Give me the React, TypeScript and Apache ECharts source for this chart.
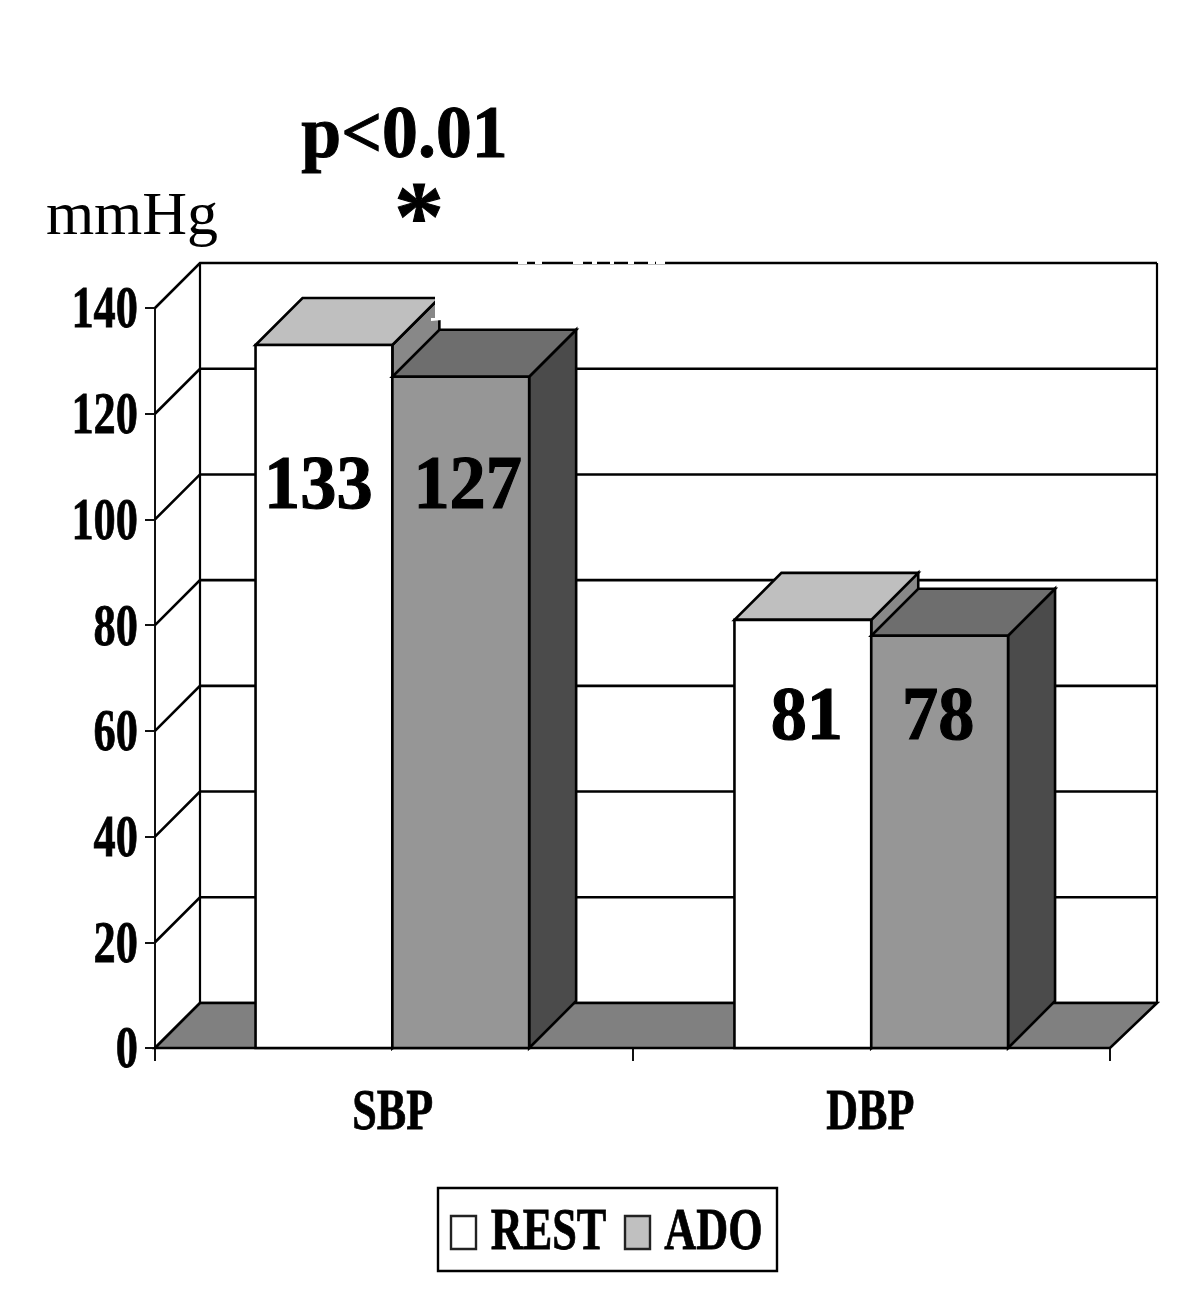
import React, { useEffect, useRef } from "react";
import * as echarts from "echarts";

const categories = ["SBP", "DBP"];
const yTicks = [0, 20, 40, 60, 80, 100, 120, 140];
const restValues = [133, 81];
const adoValues = [127, 78];
const seriesNames = ["REST", "ADO"];

const FONT = "'Liberation Serif', 'Times New Roman', serif";
const WALL = 45;
const BAR_DEPTH = 47;
const BAR_FRACTION = 0.2865;
const LINE = 2.6;

const txt = (text: string, x: number, y: number, size: number, opts: any = {}) => ({
  type: "text",
  x,
  y,
  scaleX: opts.scaleX ?? 1,
  z: opts.z ?? 20,
  silent: true,
  style: {
    text,
    fill: "#000",
    stroke: opts.weight === "normal" ? undefined : "#000",
    lineWidth: opts.weight === "normal" ? 0 : opts.bold ?? 0.8,
    font: `${opts.weight ?? "bold"} ${size}px ${FONT}`,
    align: opts.align ?? "center",
    textAlign: opts.align ?? "center",
    verticalAlign: "middle",
    textVerticalAlign: "middle",
  },
});

const barNudge = [-1.4, 0];

const bar3d = (front: string, top: string, side: string, index: number) => (params: any, api: any) => {
  const cat = api.value(0);
  const v = api.value(1);
  const band = api.size([1, 0])[0];
  const w = band * BAR_FRACTION;
  const c = api.coord([cat, 0]);
  const t = api.coord([cat, v]);
  const x0 = c[0] + barNudge[cat] + (index === 0 ? -w : 0);
  const x1 = x0 + w;
  const y0 = c[1];
  const y1 = t[1];
  const d = BAR_DEPTH;
  const shape = (points: number[][], fill: string) => ({
    type: "polygon",
    shape: { points },
    style: { fill, stroke: "#000", lineWidth: LINE, lineJoin: "miter" },
  });
  return {
    type: "group",
    children: [
      shape([[x1, y0], [x1 + d, y0 - d], [x1 + d, y1 - d], [x1, y1]], side),
      shape([[x0, y1], [x0 + d, y1 - d], [x1 + d, y1 - d], [x1, y1]], top),
      shape([[x0, y0], [x1, y0], [x1, y1], [x0, y1]], front),
    ],
  };
};

const labelHeights = [107.2, 63.4];
const labelShift = [[-7, 5.5], [4, -1.5]];

const valueLabel = (index: number) => (params: any, api: any) => {
  const cat = api.value(0);
  const v = api.value(1);
  const band = api.size([1, 0])[0];
  const w = band * BAR_FRACTION;
  const p = api.coord([cat, labelHeights[cat]]);
  const cx = p[0] + (index === 0 ? -w / 2 : w / 2) + labelShift[cat][index];
  return txt(String(v), cx, p[1], 77, { scaleX: 0.94, bold: 1.2 });
};

export default function App() {
  const ref = useRef<HTMLDivElement>(null);
  useEffect(() => {
    document.body.style.margin = "0";
    const chart = echarts.init(ref.current!, undefined, { renderer: "svg" });
    const gaps = [
      [518, 9], [535, 7], [573, 10], [592, 5], [610, 4], [628, 6], [648, 7], [656, 9],
    ];
    chart.setOption({
      animation: false,
      backgroundColor: "#fff",
      grid: { left: 155, top: 308, width: 955, height: 740, containLabel: false },
      xAxis: {
        type: "category",
        data: categories,
        axisLine: { lineStyle: { color: "#111", width: 2 } },
        axisTick: { show: true, length: 13, lineStyle: { color: "#111", width: 2 } },
        axisLabel: { show: false },
        splitLine: { show: false },
      },
      yAxis: {
        type: "value",
        min: 0,
        max: 140,
        interval: 20,
        axisLine: { show: true, lineStyle: { color: "#111", width: 2 } },
        axisTick: { show: true, length: 10, lineStyle: { color: "#111", width: 2 } },
        axisLabel: { show: false },
        splitLine: { show: false },
      },
      graphic: [
        txt("p<0.01", 404.5, 132, 74, { scaleX: 0.97, bold: 1 }),
        txt("*", 419, 215, 100, { bold: 1 }),
        txt("mmHg", 132, 213, 62, { weight: "normal" }),
        ...gaps.map(([x, w]) => ({
          type: "rect",
          z: 15,
          silent: true,
          shape: { x, y: 258, width: w, height: 6 },
          style: { fill: "#fff" },
        })),
        {
          type: "polygon",
          z: 15,
          silent: true,
          shape: {
            points: [[435, 292], [446, 292], [446, 320], [442, 320], [431, 321], [431, 318], [435, 318]],
          },
          style: { fill: "#fff" },
        },
        {
          type: "rect",
          z: 15,
          silent: true,
          shape: { x: 438, y: 1188, width: 339, height: 83 },
          style: { fill: "#fff", stroke: "#000", lineWidth: 2.4 },
        },
        {
          type: "rect",
          z: 16,
          silent: true,
          shape: { x: 451, y: 1216, width: 25, height: 33 },
          style: { fill: "#fff", stroke: "#222", lineWidth: 2.4 },
        },
        {
          type: "rect",
          z: 16,
          silent: true,
          shape: { x: 625, y: 1216, width: 25, height: 33 },
          style: { fill: "#c0c0c0", stroke: "#222", lineWidth: 2.4 },
        },
        txt(seriesNames[0], 548.5, 1229.5, 59, { scaleX: 0.75 }),
        txt(seriesNames[1], 713.5, 1229.5, 59, { scaleX: 0.75 }),
      ],
      series: [
        {
          type: "custom",
          name: "wall",
          z: 1,
          silent: true,
          clip: false,
          data: yTicks.map((t) => [0, t]),
          renderItem: (params: any, api: any) => {
            const cs = params.coordSys;
            const y = api.coord([0, api.value(1)])[1];
            const l = cs.x;
            const r = cs.x + cs.width;
            return {
              type: "polyline",
              shape: { points: [[l, y], [l + WALL, y - WALL], [r + WALL + 2, y - WALL]] },
              style: { fill: "none", stroke: "#000", lineWidth: LINE },
            };
          },
        },
        {
          type: "custom",
          name: "floor",
          z: 2,
          silent: true,
          clip: false,
          data: [[0, 0]],
          renderItem: (params: any, api: any) => {
            const cs = params.coordSys;
            const l = cs.x;
            const r = cs.x + cs.width;
            const b = cs.y + cs.height;
            const t = cs.y - WALL;
            return {
              type: "group",
              children: [
                { type: "line", shape: { x1: l + WALL, y1: t, x2: l + WALL, y2: b - WALL }, style: { stroke: "#000", lineWidth: 2.2 } },
                { type: "line", shape: { x1: r + WALL + 2, y1: t, x2: r + WALL + 2, y2: b - WALL }, style: { stroke: "#000", lineWidth: 2.2 } },
                {
                  type: "polygon",
                  shape: { points: [[l, b], [r, b], [r + WALL + 2, b - WALL], [l + WALL, b - WALL]] },
                  style: { fill: "#808080", stroke: "#000", lineWidth: LINE },
                },
              ],
            };
          },
        },
        {
          type: "custom",
          name: seriesNames[0],
          z: 3,
          silent: true,
          clip: false,
          data: restValues.map((v, i) => [i, v]),
          renderItem: bar3d("#ffffff", "#bfbfbf", "#888888", 0),
        },
        {
          type: "custom",
          name: seriesNames[1],
          z: 4,
          silent: true,
          clip: false,
          data: adoValues.map((v, i) => [i, v]),
          renderItem: bar3d("#969696", "#6e6e6e", "#4b4b4b", 1),
        },
        {
          type: "custom",
          name: "restLabels",
          z: 5,
          silent: true,
          clip: false,
          data: restValues.map((v, i) => [i, v]),
          renderItem: valueLabel(0),
        },
        {
          type: "custom",
          name: "adoLabels",
          z: 5,
          silent: true,
          clip: false,
          data: adoValues.map((v, i) => [i, v]),
          renderItem: valueLabel(1),
        },
        {
          type: "custom",
          name: "yLabels",
          z: 5,
          silent: true,
          clip: false,
          data: yTicks.map((t) => [0, t]),
          renderItem: (params: any, api: any) => {
            const v = api.value(1);
            const y = api.coord([0, v])[1];
            return txt(String(v), 138, y - 1, 60, { scaleX: 0.74, align: "right" });
          },
        },
        {
          type: "custom",
          name: "xLabels",
          z: 5,
          silent: true,
          clip: false,
          data: categories.map((c, i) => [i, 0]),
          renderItem: (params: any, api: any) => {
            const i = api.value(0);
            const p = api.coord([i, 0]);
            return txt(categories[i], p[0] - 1, 1109, 58, { scaleX: 0.76 });
          },
        },
      ],
    });
    return () => chart.dispose();
  }, []);
  return (
    <div
      ref={ref}
      style={{ position: "absolute", left: 0, top: 0, width: 1200, height: 1292, background: "#fff" }}
    />
  );
}
